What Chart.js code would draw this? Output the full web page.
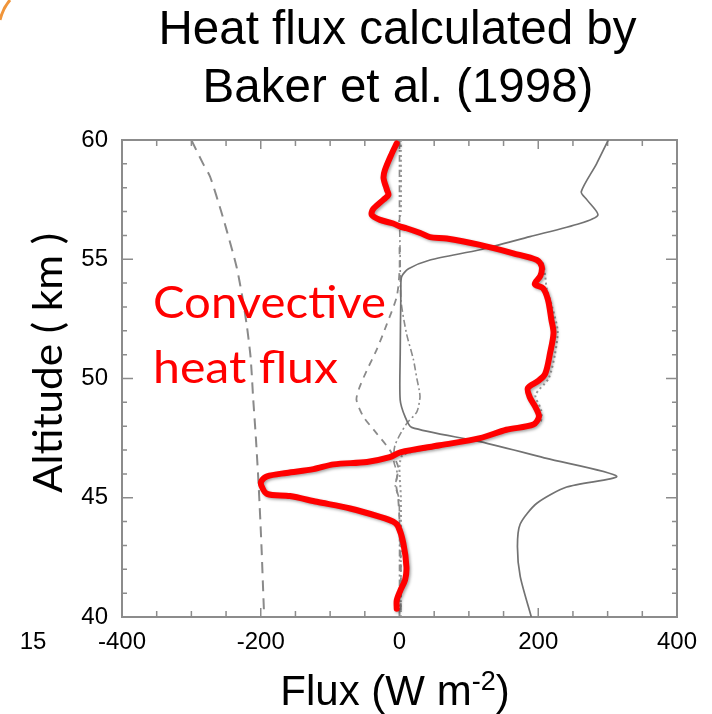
<!DOCTYPE html>
<html>
<head>
<meta charset="utf-8">
<script src="https://cdn.jsdelivr.net/npm/chart.js@4.4.1/dist/chart.umd.min.js"></script>
<style>
  html, body { margin: 0; padding: 0; background: #fff; }
</style>
</head>
<body>
<canvas id="chart" width="712" height="714"></canvas>
<script>
// tick labels
const xTicks = [-400, -200, 0, 200, 400];
const yTicks = [40, 45, 50, 55, 60];

// hand drawn red trace (convective heat flux)
const redAlt = [59.86, 59.44, 58.74, 58.4, 57.9, 57.7, 57.5, 57.1, 56.86, 56.65, 56.5, 56.37, 56.3, 56.1,
  55.93, 55.87, 55.6, 55.25, 54.97, 54.7, 54.3, 53.96, 53.78, 53.3, 52.45, 51.9, 51.06, 50.2, 49.9,
  49.6, 49.2, 48.8, 48.4, 48.07, 47.85, 47.5, 47.2, 46.9, 46.7, 46.5, 46.4, 46.2, 46.04, 45.9, 45.7,
  45.5, 45.16, 45.07, 44.83, 44.55, 44.2, 44.0, 43.8, 43.1, 42.1, 41.55, 41.1, 40.7, 40.35];
const redFlux = [-4, -11, -21, -23, -18, -16, -23, -38, -40, -28, -9, 1, 10, 30,
  44, 68, 116, 164, 198, 205, 203, 195, 207, 214, 219, 222, 217, 210, 200,
  185, 188, 196, 201, 193, 154, 116, 58, 1, -14, -47, -95, -124, -163, -191, -199,
  -199, -191, -158, -119, -71, -28, -9, -2, 5.5, 10, 8, 1, -4, -4];

// Baker et al. curves (grey)
const solidAlt = [60, 59.0, 57.83, 57.5, 56.86, 56.5, 55.95, 55.4, 54.97, 54.6, 54.27, 53.57, 51, 49.1,
  48.4, 47.95, 47.35, 46.65, 45.9, 45.45, 44.77, 43.9, 42.95, 41.7, 40];
const solidFlux = [301, 284, 262, 270, 286, 260, 188, 116, 44, 13, 3, 2, 1, 1,
  8, 17.5, 116, 212, 313, 241, 198, 174, 170, 174, 190];

const longDashAlt = [60, 59, 58.46, 57, 56.2, 54.7, 53.5, 52.2, 51, 50.2, 49.2, 47.5, 45.5, 43, 40.7, 40];
const longDashFlux = [-300, -283, -273, -257, -249, -235, -227, -220, -215, -213, -211, -207, -203, -199, -196, -195];

const dashAlt = [55.5, 54.5, 53.43, 52.3, 51.2, 50.35, 49.6, 49.1, 48.4, 47.7, 47.0, 46.3, 45.6, 45, 44, 42, 40];
const dashFlux = [0, 0, -4, -18, -33, -47, -58, -62, -52, -33, -14, -2, -5, -2, 0, 2, 2];

const dashDotAlt = [60, 57, 55, 53.3, 51.9, 50.8, 50, 49.5, 49.2, 48.6, 48.1, 47.2, 46.5, 46, 45.5, 45, 44, 42, 40];
const dashDotFlux = [0, 0, 1, 2, 10, 20, 25, 28.5, 29.5, 25, 10, -6.5, -8, -3, -6, -1, 0, 0, 0];

const dotAlt = [60, 57, 56.4, 56.0, 55.6, 55.2, 54.9, 54.3, 53.8, 53.0, 52.0, 51.0, 50.0, 49.3, 48.7, 48.2,
  47.9, 47.5, 47.1, 46.8, 46.3, 45, 42, 40];
const dotFlux = [2, 2, 0, 40, 116, 170, 205, 210, 212, 220, 228, 224, 215, 196, 204, 203,
  160, 110, 50, 5, 0, 2, 2, 2];

const pts = (xs, ys) => xs.map((x, i) => ({ x: x, y: ys[i] }));

const grey = (label, xs, ys, dash, width, color) => ({
  label: label,
  data: pts(xs, ys),
  showLine: true,
  borderColor: color,
  borderWidth: width,
  borderDash: dash,
  pointRadius: 0,
  tension: 0.25,
  order: 1
});

const FONT = '"Liberation Sans", Arial, sans-serif';

// frame with inward ticks, like the scanned figure
const frameTicks = {
  id: 'frameTicks',
  beforeDatasetsDraw(chart) {
    const { ctx, chartArea: a, scales: { x, y } } = chart;
    ctx.save();
    ctx.strokeStyle = '#8c8c8c';
    ctx.lineWidth = 2;
    ctx.strokeRect(a.left, a.top, a.right - a.left, a.bottom - a.top);
    ctx.lineWidth = 1.5;
    ctx.beginPath();
    for (let v = -400; v <= 400; v += 50) {
      const px = x.getPixelForValue(v);
      const len = v % 200 === 0 ? 9 : 6;
      ctx.moveTo(px, a.bottom); ctx.lineTo(px, a.bottom - len);
      ctx.moveTo(px, a.top); ctx.lineTo(px, a.top + len);
    }
    for (let v = 40; v <= 60; v += 1) {
      const py = y.getPixelForValue(v);
      const len = v % 5 === 0 ? 11 : 5;
      ctx.moveTo(a.left, py); ctx.lineTo(a.left + len, py);
      ctx.moveTo(a.right, py); ctx.lineTo(a.right - len, py);
    }
    ctx.stroke();
    ctx.restore();
  }
};

// soft shadow under the red trace
const redShadow = {
  id: 'redShadow',
  beforeDatasetDraw(chart, args) {
    if (args.index !== 0) return;
    const ctx = chart.ctx;
    ctx.save();
    ctx.shadowColor = 'rgba(0,0,0,0.35)';
    ctx.shadowBlur = 3;
    ctx.shadowOffsetX = 1.5;
    ctx.shadowOffsetY = 1.5;
  },
  afterDatasetDraw(chart, args) {
    if (args.index === 0) chart.ctx.restore();
  }
};

function fitText(ctx, text, x, y, w, align) {
  const m = ctx.measureText(text).width;
  ctx.save();
  ctx.translate(x, y);
  ctx.scale(w / m, 1);
  ctx.textAlign = align;
  ctx.fillText(text, 0, 0);
  ctx.restore();
}

const slideText = {
  id: 'slideText',
  afterDraw(chart) {
    const ctx = chart.ctx;
    ctx.save();

    // bit of the slide decoration in the corner
    ctx.strokeStyle = '#f0953a';
    ctx.lineWidth = 3;
    ctx.beginPath();
    ctx.moveTo(0, 20);
    ctx.quadraticCurveTo(3, 8, 10, 0);
    ctx.stroke();

    ctx.fillStyle = '#000';
    ctx.textBaseline = 'alphabetic';

    // title
    ctx.font = '47.5px ' + FONT;
    ctx.textAlign = 'center';
    ctx.fillText('Heat flux calculated by', 397.5, 44);
    ctx.fillText('Baker et al. (1998)', 398, 102);

    // x axis title with superscript
    const big = '42px ' + FONT, small = '27px ' + FONT;
    ctx.font = big;
    const p1 = 'Flux (W m', p3 = ')';
    const w1 = ctx.measureText(p1).width, w3 = ctx.measureText(p3).width;
    ctx.font = small;
    const w2 = ctx.measureText('-2').width;
    let xs = 395 - (w1 + w2 + w3) / 2;
    ctx.textAlign = 'left';
    ctx.font = big;
    ctx.fillText(p1, xs, 705);
    ctx.font = small;
    ctx.fillText('-2', xs + w1, 690);
    ctx.font = big;
    ctx.fillText(p3, xs + w1 + w2, 705);

    // y axis title (rotated)
    ctx.save();
    ctx.translate(62, 363);
    ctx.rotate(-Math.PI / 2);
    ctx.font = '41px Lato, "Open Sans", sans-serif';
    fitText(ctx, 'Altitude ( km )', 0, 0, 260, 'center');
    ctx.restore();

    // stray label at far left
    ctx.font = '24px ' + FONT;
    ctx.textAlign = 'center';
    ctx.textBaseline = 'middle';
    ctx.fillText('15', 33, 642);

    // red annotation
    ctx.fillStyle = '#ff0000';
    ctx.textBaseline = 'alphabetic';
    ctx.font = '44.5px Lato, "Open Sans", sans-serif';
    fitText(ctx, 'Convective', 153, 318, 233, 'left');
    fitText(ctx, 'heat flux', 153, 383, 185, 'left');
    ctx.restore();
  }
};

new Chart(document.getElementById('chart'), {
  type: 'scatter',
  data: {
    datasets: [
      {
        label: 'Convective heat flux',
        data: pts(redFlux, redAlt),
        showLine: true,
        borderColor: '#ff0000',
        borderWidth: 6,
        pointRadius: 0,
        tension: 0.3,
        borderCapStyle: 'round',
        borderJoinStyle: 'round',
        order: 0
      },
      grey('solid', solidFlux, solidAlt, [], 1.7, '#727272'),
      grey('long dash', longDashFlux, longDashAlt, [11, 7], 2, '#8a8a8a'),
      grey('dash', dashFlux, dashAlt, [7, 6], 1.8, '#8a8a8a'),
      grey('dash dot', dashDotFlux, dashDotAlt, [7, 3, 2, 3], 1.6, '#8c8c8c'),
      grey('dotted', dotFlux, dotAlt, [2, 3], 2, '#9a9a9a')
    ]
  },
  options: {
    responsive: false,
    animation: false,
    layout: { padding: { top: 140, right: 35, left: 0, bottom: 0 } },
    plugins: { legend: { display: false }, tooltip: { enabled: false }, title: { display: false } },
    scales: {
      x: {
        type: 'linear',
        min: -400, max: 400,
        afterBuildTicks(scale) { scale.ticks = xTicks.map(v => ({ value: v })); },
        afterFit(scale) { scale.height = 97; },
        ticks: { color: '#000', padding: 11, font: { family: FONT, size: 24 } },
        grid: { display: false, drawTicks: false },
        border: { display: false }
      },
      y: {
        type: 'linear',
        min: 40, max: 60,
        afterBuildTicks(scale) { scale.ticks = yTicks.map(v => ({ value: v })); },
        afterFit(scale) { scale.width = 122; },
        ticks: { color: '#000', padding: 14, font: { family: FONT, size: 24 } },
        grid: { display: false, drawTicks: false },
        border: { display: false }
      }
    }
  },
  plugins: [frameTicks, redShadow, slideText]
});
</script>
</body>
</html>
